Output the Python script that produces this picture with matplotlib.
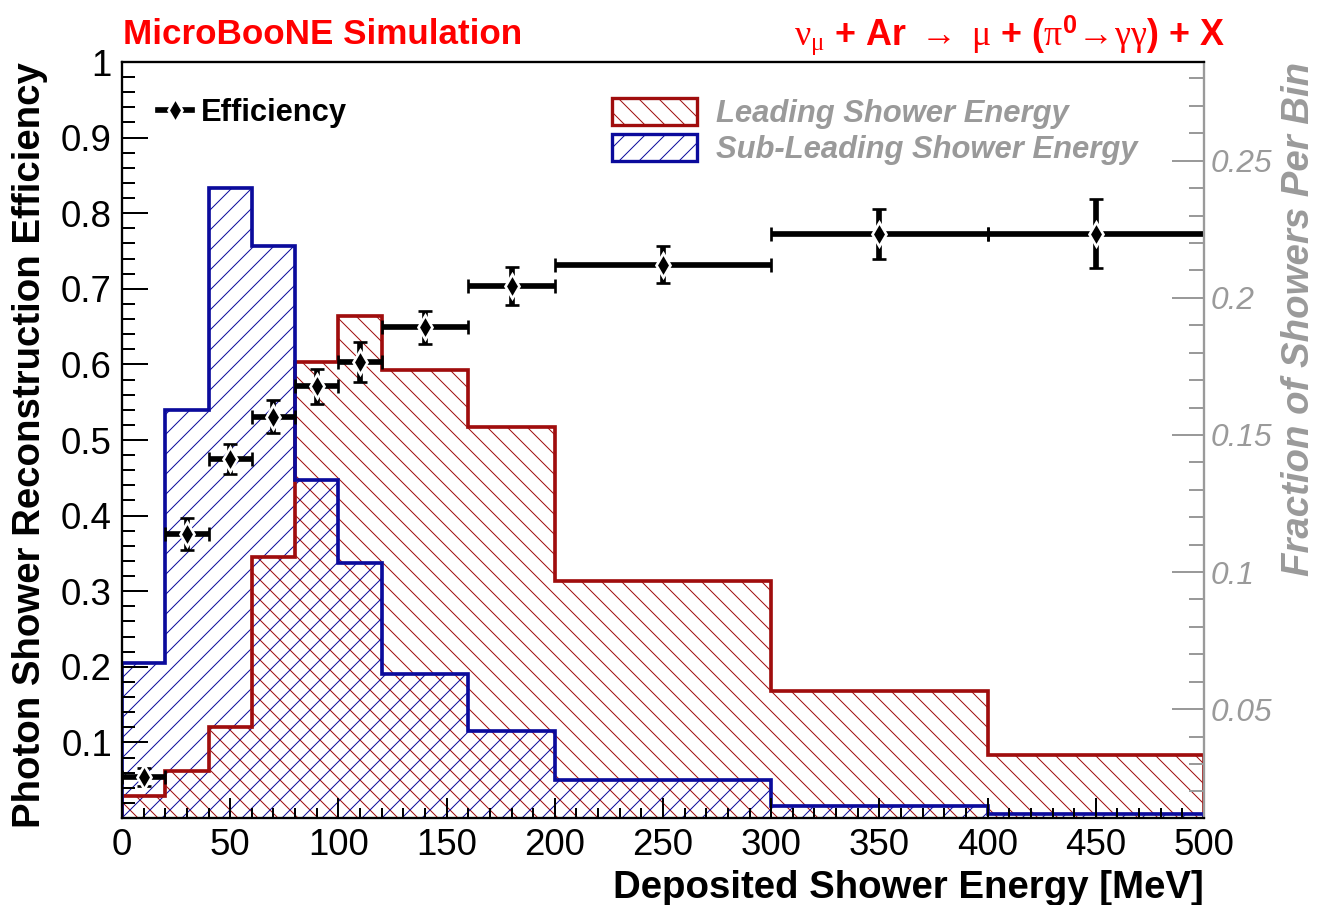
import numpy as np
import matplotlib
matplotlib.use('Agg')
import matplotlib.pyplot as plt
from matplotlib.patches import Patch
from matplotlib.lines import Line2D
from matplotlib.ticker import MultipleLocator, FixedLocator, FormatStrFormatter

plt.rcParams['font.family'] = ['Liberation Sans', 'DejaVu Sans']
plt.rcParams['mathtext.fontset'] = 'custom'
plt.rcParams['mathtext.rm'] = 'Liberation Serif'
plt.rcParams['mathtext.it'] = 'Liberation Serif:italic'
plt.rcParams['mathtext.bf'] = 'Liberation Sans:bold'
plt.rcParams['hatch.linewidth'] = 0.6

# ---------------- data ----------------
bin_edges = [0, 20, 40, 60, 80, 100, 120, 160, 200, 300, 400, 500]

# fraction of showers per bin (right axis)
leading_frac = [0.0185, 0.0275, 0.0434, 0.1056, 0.1765, 0.1934,
                0.1735, 0.1528, 0.0969, 0.0566, 0.0333]
subleading_frac = [0.0670, 0.1591, 0.2400, 0.2190, 0.1336, 0.1032,
                   0.0627, 0.0420, 0.0242, 0.0147, 0.0116]

# reconstruction efficiency (left axis)
efficiency = [0.054, 0.376, 0.475, 0.531, 0.571, 0.603,
              0.649, 0.704, 0.732, 0.773, 0.773]
efficiency_err = [0.012, 0.021, 0.020, 0.022, 0.023, 0.026,
                  0.022, 0.025, 0.024, 0.033, 0.046]

red = '#a00d0d'
blue = '#0b0b9c'
gray = '#9a9a9a'

edges = np.array(bin_edges, dtype=float)
centers = 0.5 * (edges[1:] + edges[:-1])
half_width = 0.5 * (edges[1:] - edges[:-1])

# ---------------- figure ----------------
fig = plt.figure(figsize=(1318 / 120, 905 / 120), dpi=120)
ax = fig.add_axes([122 / 1318, 87 / 905, 1082 / 1318, 756 / 905])
ax2 = ax.twinx()
ax.set_zorder(ax2.get_zorder() + 1)
ax.patch.set_visible(False)

# histograms (hatched, no fill)
ax2.stairs(leading_frac, edges, baseline=0, fill=True, facecolor='none',
           edgecolor=red, hatch='\\\\', linewidth=0)
ax2.stairs(subleading_frac, edges, baseline=0, fill=True, facecolor='none',
           edgecolor=blue, hatch='//', linewidth=0)
ax2.stairs(leading_frac, edges, baseline=0, color=red, linewidth=2.2)
ax2.stairs(subleading_frac, edges, baseline=0, color=blue, linewidth=2.2)

# efficiency points
ax.errorbar(centers, efficiency, xerr=half_width, yerr=efficiency_err,
            fmt='d', color='black', ms=10, mfc='black', mec='white',
            mew=1.6, elinewidth=3.4, capsize=4, capthick=3.4)

# ---------------- axes styling ----------------
ax.set_xlim(0, 500)
ax.set_ylim(0, 1)
ax2.set_ylim(0.0103, 0.286)

ax.xaxis.set_major_locator(MultipleLocator(50))
ax.xaxis.set_minor_locator(MultipleLocator(10))
ax.yaxis.set_major_locator(FixedLocator(np.round(np.arange(0.1, 1.01, 0.1), 2)))
ax.yaxis.set_minor_locator(MultipleLocator(0.02))
ax.yaxis.set_major_formatter(FormatStrFormatter('%g'))

ax.tick_params(axis='x', which='major', direction='in', length=12, width=1.2,
               labelsize=22, pad=6, top=False)
ax.tick_params(axis='x', which='minor', direction='in', length=6, width=1.2, top=False)
ax.tick_params(axis='y', which='major', direction='in', length=15.5, width=1.2,
               labelsize=22, pad=6, right=False)
ax.tick_params(axis='y', which='minor', direction='in', length=7.5, width=1.2, right=False)

ax2.yaxis.set_major_locator(FixedLocator([0.05, 0.10, 0.15, 0.20, 0.25]))
ax2.yaxis.set_minor_locator(MultipleLocator(0.01))
ax2.yaxis.set_major_formatter(FormatStrFormatter('%g'))
ax2.tick_params(axis='y', which='major', direction='in', length=19, width=1.2,
                colors=gray, labelsize=19, pad=4)
ax2.tick_params(axis='y', which='minor', direction='in', length=9, width=1.2, colors=gray)
for lbl in ax2.get_yticklabels():
    lbl.set_fontstyle('italic')

for a in (ax, ax2):
    for s in ('left', 'bottom', 'top'):
        a.spines[s].set_linewidth(1.3)
        a.spines[s].set_color('black')
    a.spines['right'].set_color(gray)
    a.spines['right'].set_linewidth(1.3)

ax.set_xlabel('Deposited Shower Energy [MeV]', fontsize=23, fontweight='bold',
              loc='right', labelpad=4)
ax.set_ylabel('Photon Shower Reconstruction Efficiency', fontsize=23,
              fontweight='bold', loc='top', labelpad=8)
ax2.set_ylabel('Fraction of Showers Per Bin', fontsize=23, fontweight='bold',
               fontstyle='italic', color=gray, loc='top', labelpad=5)

# ---------------- legends ----------------
eff_handle = Line2D([], [], color='black', lw=3.4, marker='d', ms=10,
                    mfc='black', mec='white', mew=1.6)
ax.legend([eff_handle], ['Efficiency'], loc='upper left',
          bbox_to_anchor=(0.033, 0.952), frameon=False,
          prop={'weight': 'bold', 'size': 18.5},
          handlelength=1.1, handletextpad=0.3, borderaxespad=0, borderpad=0)

hist_handles = [
    Patch(facecolor='white', edgecolor=red, hatch='\\\\', linewidth=2),
    Patch(facecolor='white', edgecolor=blue, hatch='//', linewidth=2),
]
ax2.legend(hist_handles, ['Leading Shower Energy', 'Sub-Leading Shower Energy'],
           loc='upper left', bbox_to_anchor=(0.453, 0.953), frameon=False,
           prop={'weight': 'bold', 'style': 'italic', 'size': 18.6},
           labelcolor=gray, handlelength=2.75, handleheight=1.0,
           handletextpad=0.6, labelspacing=0.15, borderaxespad=0, borderpad=0)

# ---------------- header texts ----------------
fig.text(123 / 1318, 1 - 44 / 905, 'MicroBooNE Simulation', color='red',
         fontsize=21, fontweight='bold', ha='left', va='baseline')
fig.text(1225 / 1318, 1 - 45 / 905,
         r'$\mathrm{\nu_{\mu}}$ + Ar $\mathrm{\rightarrow}$ $\mathrm{\mu}$ + '
         r'($\mathrm{\pi^{\mathbf{0}}\!\rightarrow\!\gamma\gamma}$) + X',
         color='red', fontsize=21.5, fontweight='bold', ha='right', va='baseline')

fig.savefig('out.png', dpi=120)
